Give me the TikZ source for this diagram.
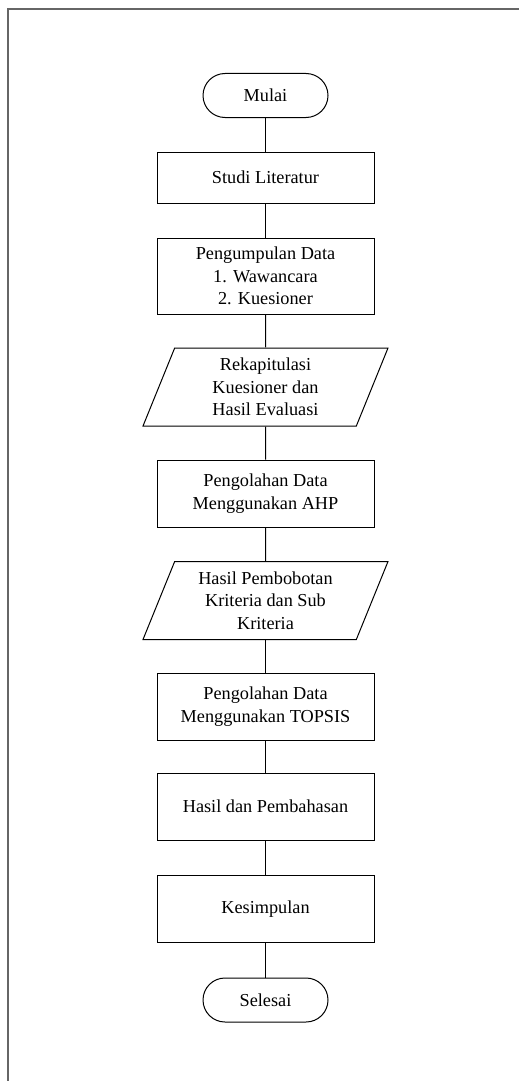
\documentclass[tikz,border=0pt]{standalone}
\usepackage{fontspec}
\setmainfont{Liberation Serif}
\usetikzlibrary{shapes.geometric}

\tikzset{
	terminal/.style={rectangle, draw, rounded corners=16.5pt, minimum width=93.75pt, minimum height=33pt},
	proses/.style={rectangle, draw, minimum width=162.75pt},
	datain/.style={trapezium, draw, trapezium left angle=63.4, trapezium right angle=116.6, trapezium stretches body, minimum width=183.75pt, minimum height=58.5pt, inner xsep=0pt}
}

\begin{document}
\begin{tikzpicture}[x=0.75pt, y=-0.75pt, line width=0.75pt, every node/.style={align=center, inner sep=2pt, font=\fontsize{13.7}{16.9}\selectfont}]
						\useasboundingbox (0,0) rectangle (518,1081);
						\draw[black!60, line width=1.5pt] (7.5,1085) -- (7.5,9.5) -- (522,9.5);
						\node[terminal] (mulai) at (265.5,95.5) {Mulai};
						\node[proses, minimum height=38.25pt] (studi) at (265.5,177.5) {Studi Literatur};
						\node[proses, minimum height=57pt] (kumpul) at (265.5,276) {Pengumpulan Data\\1. Wawancara\\2. Kuesioner};
						\node[datain] (rekap) at (265.5,387) {Rekapitulasi\\Kuesioner dan\\Hasil Evaluasi};
						\node[proses, minimum height=50.25pt] (ahp) at (265.5,493.5) {Pengolahan Data\\Menggunakan AHP};
						\node[datain] (bobot) at (265.5,600.5) {Hasil Pembobotan\\Kriteria dan Sub\\Kriteria};
						\node[proses, minimum height=50.25pt] (topsis) at (265.5,706.5) {Pengolahan Data\\Menggunakan TOPSIS};
						\node[proses, minimum height=50.25pt] (hasil) at (265.5,806.5) {Hasil dan Pembahasan};
						\node[proses, minimum height=50.25pt] (simpul) at (265.5,909) {Kesimpulan};
						\node[terminal] (selesai) at (265.5,1000) {Selesai};
						\draw (mulai) -- (studi);
						\draw (studi) -- (kumpul);
						\draw (kumpul) -- (rekap);
						\draw (rekap) -- (ahp);
						\draw (ahp) -- (bobot);
						\draw (bobot) -- (topsis);
						\draw (topsis) -- (hasil);
						\draw (hasil) -- (simpul);
						\draw (simpul) -- (selesai);
					\end{tikzpicture}
\end{document}
